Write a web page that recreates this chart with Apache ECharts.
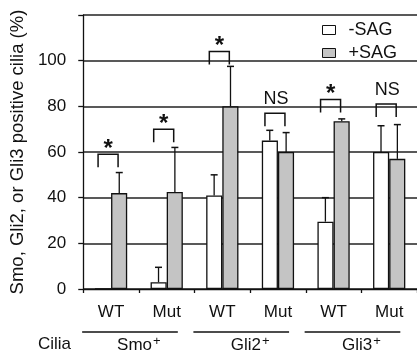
<!DOCTYPE html>
<html><head><meta charset="utf-8">
<script src="https://cdn.jsdelivr.net/npm/echarts@6/dist/echarts.min.js"></script>
<style>html,body{margin:0;padding:0;background:#fff}#c{width:417px;height:354px}</style>
</head><body><div id="c"></div>
<script>
// ---- data ----
const categories = ['WT', 'Mut', 'WT', 'Mut', 'WT', 'Mut'];
const groups = ['Smo', 'Gli2', 'Gli3'];
const groupSpans = [[0, 1], [2, 3], [4, 5]];
const minusSAG = [0, 3, 41, 65, 29.5, 60];
const minusSAGErr = [0, 9.5, 50, 69.5, 40, 71.5];
const plusSAG = [42, 42.5, 80, 60, 73.5, 57];
const plusSAGErr = [51, 62, 97.5, 68.5, 74.5, 72];
const sigIndex = [0, 1, 2, 3, 4, 5];
const sigTop = [59, 70, 104, 77, 83, 81];
const sigLabel = ['*', '*', '*', 'NS', '*', 'NS'];
const yTicks = [0, 20, 40, 60, 80, 100, 120];

const FONT = 'Liberation Sans, Arial, sans-serif';
const chart = echarts.init(document.getElementById('c'), null, {renderer: 'canvas'});

function errItem(vals, tops) { return vals.map((v, i) => [i, v, tops[i]]); }

function errRender(side) {
  return function (params, api) {
    const i = api.value(0);
    const c = api.coord([i, api.value(1)]);
    const t = api.coord([i, api.value(2)]);
    const w = api.size([1, 0])[0];
    const x = c[0] + side * w * 0.147;
    if (api.value(2) <= api.value(1)) return null;
    return {type: 'group', children: [
      {type: 'line', shape: {x1: x, y1: c[1], x2: x, y2: t[1]}, style: {stroke: '#111', lineWidth: 1.3}},
      {type: 'line', shape: {x1: x - 3.5, y1: t[1], x2: x + 3.5, y2: t[1]}, style: {stroke: '#111', lineWidth: 1.5}}
    ]};
  };
}

const option = {
  animation: false,
  textStyle: {fontFamily: FONT},
  grid: {left: 81, top: 15, width: 340, height: 274},
  legend: {
    orient: 'vertical', left: 317, top: 16, itemWidth: 13, itemHeight: 9, itemGap: 5, icon: 'rect',
    textStyle: {fontFamily: FONT, fontSize: 18, color: '#111', padding: [0, 0, 0, 8]},
    data: [{name: '-SAG', itemStyle: {color: '#fff', borderColor: '#111', borderWidth: 1}},
           {name: '+SAG', itemStyle: {color: '#c4c4c4', borderColor: '#111', borderWidth: 1}}]
  },
  xAxis: [{
    type: 'category', data: categories, position: 'bottom',
    axisLine: {show: true, lineStyle: {color: '#111', width: 1.3}},
    axisTick: {show: true, length: 4, lineStyle: {color: '#111', width: 1.3}},
    axisLabel: {color: '#111', fontSize: 17, margin: 15, fontFamily: FONT, interval: 0},
    splitLine: {show: false}
  }, {
    type: 'category', data: groups, position: 'bottom', gridIndex: 0,
    axisLine: {show: false}, axisTick: {show: false},
    axisLabel: {color: '#111', fontSize: 17, margin: 46, fontFamily: FONT, interval: 0,
      formatter: v => '{b|' + v + '}{s|+}',
      rich: {b: {fontSize: 17, fontFamily: FONT, color: '#111'},
             s: {fontSize: 13, fontFamily: FONT, color: '#111', padding: [0, 0, 8, 1]}}},
    splitLine: {show: false}
  }],
  yAxis: {
    type: 'value', min: 0, max: 120, interval: 20,
    name: 'Smo, Gli2, or Gli3 positive cilia (%)', nameLocation: 'middle', nameGap: 50,
    nameTextStyle: {color: '#111', fontSize: 18.5, fontFamily: FONT},
    axisLine: {show: true, lineStyle: {color: '#111', width: 1.3}},
    axisTick: {show: true, length: 5, lineStyle: {color: '#111', width: 1.3}},
    axisLabel: {color: '#111', fontSize: 17, margin: 17, fontFamily: FONT,
      formatter: v => (yTicks.indexOf(v) >= 0 && v !== 120) ? String(v) : ''},
    splitLine: {show: true, lineStyle: {color: '#222', width: 1.5}}
  },
  graphic: [{type: 'text', left: 38, top: 336,
    style: {text: 'Cilia', font: '17px ' + FONT, fill: '#111'}}],
  series: [
    {name: '-SAG', type: 'bar', data: minusSAG, barWidth: '29%', barGap: '0%',
     itemStyle: {color: '#fff', borderColor: '#111', borderWidth: 1.3}, z: 3},
    {name: '+SAG', type: 'bar', data: plusSAG, barWidth: '29%', barGap: '0%',
     itemStyle: {color: '#c4c4c4', borderColor: '#111', borderWidth: 1.3}, z: 3},
    {type: 'custom', data: errItem(minusSAG, minusSAGErr), renderItem: errRender(-1), z: 4,
     encode: {x: 0, y: [1, 2]}, silent: true},
    {type: 'custom', data: errItem(plusSAG, plusSAGErr), renderItem: errRender(1), z: 4,
     encode: {x: 0, y: [1, 2]}, silent: true},
    {type: 'custom', z: 5, silent: true, clip: false,
     data: sigIndex.map((i, k) => [i, sigTop[k], k]),
     encode: {x: 0, y: 1},
     renderItem: function (params, api) {
       const i = api.value(0);
       const p = api.coord([i, api.value(1)]);
       const lbl = sigLabel[api.value(2)];
       const x1 = p[0] - 13, x2 = p[0] + 7, y = p[1];
       return {type: 'group', children: [
         {type: 'polyline', shape: {points: [[x1, y + 13], [x1, y], [x2, y], [x2, y + 13]]},
          style: {stroke: '#111', lineWidth: 1.5, fill: null}},
         {type: 'text', style: lbl === '*' ?
           {text: '*', x: (x1 + x2) / 2, y: y + 7, textAlign: 'center', textVerticalAlign: 'bottom',
            font: 'bold 24px ' + FONT, fill: '#111'} :
           {text: lbl, x: (x1 + x2) / 2 + 1, y: y - 5, textAlign: 'center', textVerticalAlign: 'bottom',
            font: '18px ' + FONT, fill: '#111'}}
       ]};
     }},
    {type: 'custom', z: 5, silent: true, clip: false,
     data: groupSpans.map(s => [s[0], s[1]]),
     encode: {x: [0, 1]},
     renderItem: function (params, api) {
       const a = api.coord([api.value(0), 0]);
       const b = api.coord([api.value(1), 0]);
       const w = api.size([1, 0])[0];
       const y = a[1] + 43;
       return {type: 'line', shape: {x1: a[0] - w * 0.52, y1: y, x2: b[0] + w * 0.2, y2: y},
               style: {stroke: '#111', lineWidth: 1.3}};
     }}
  ]
};
chart.setOption(option);
</script></body></html>
